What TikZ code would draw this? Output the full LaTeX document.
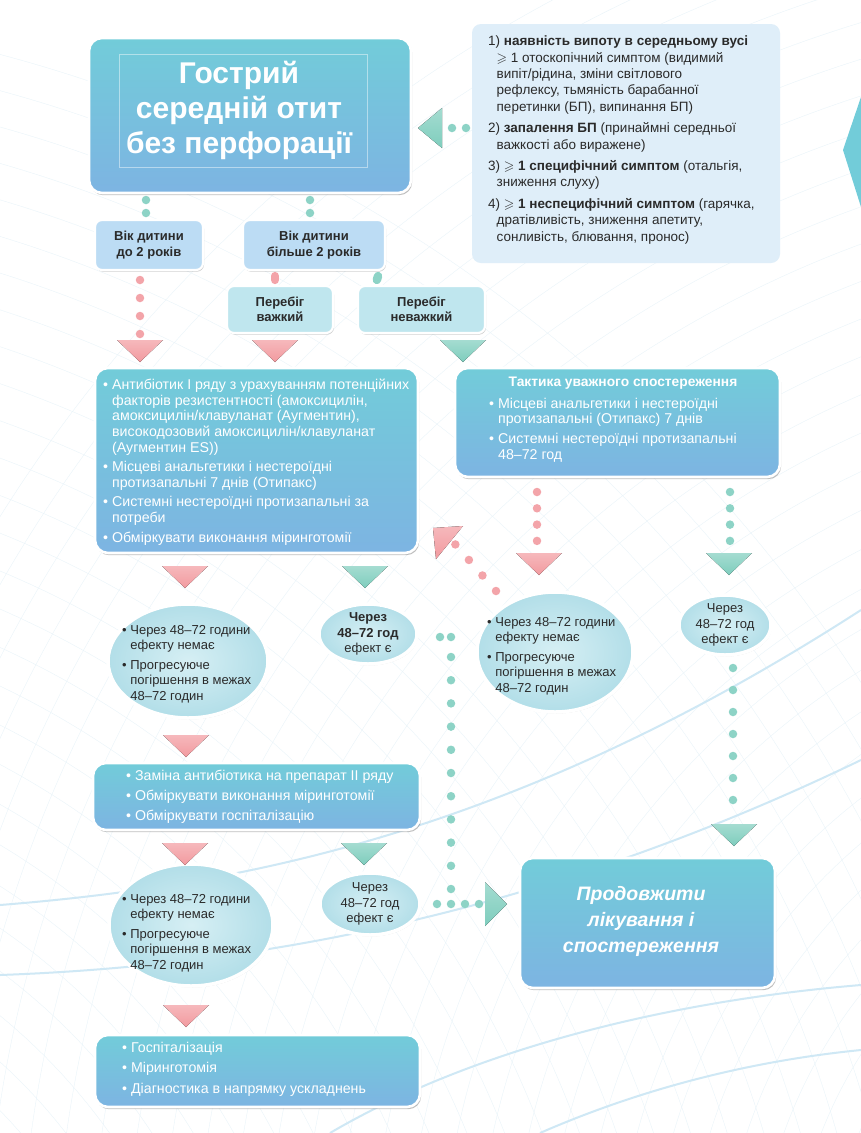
\documentclass[tikz,border=0pt]{standalone}
\usepackage{fontspec}
\setmainfont{Liberation Sans}
\usepackage{amssymb}
\usetikzlibrary{calc,shadows,shapes.geometric}

\definecolor{boxtop}{HTML}{72CCD9}
\definecolor{boxbot}{HTML}{7DB4E2}
\definecolor{pinkc}{HTML}{F29A9F}
\definecolor{pdot}{HTML}{F3A4A9}
\definecolor{tealc}{HTML}{7ECDBD}
\definecolor{tdot}{HTML}{8DD3C6}
\definecolor{critc}{HTML}{DFEEF9}
\definecolor{agec}{HTML}{BCDCF4}
\definecolor{coursec}{HTML}{BFE6EE}
\definecolor{txt}{HTML}{2A2A2A}
\definecolor{meshc}{HTML}{E8F3F9}
\definecolor{arcc}{HTML}{CFE8F5}
\definecolor{ovin}{HTML}{D6EFF4}
\definecolor{ovout}{HTML}{B2DEE8}

\newcommand\mybul{\textbullet\ }
\newcommand\myind{\hphantom{\textbullet\ }}

\tikzset{
  bluebox/.style={rectangle, rounded corners=13pt, draw=white, line width=2.6pt,
    top color=boxtop, bottom color=boxbot, inner sep=0pt,
    drop shadow={shadow xshift=1.2pt, shadow yshift=-2.2pt, fill=black, opacity=0.25}},
  agebox/.style={rectangle, rounded corners=7pt, draw=white, line width=2.2pt, fill=agec,
    inner sep=0pt, text=txt, align=center,
    font=\bfseries\fontsize{13}{15.5}\selectfont,
    drop shadow={shadow xshift=1pt, shadow yshift=-1.6pt, fill=black, opacity=0.2}},
  coursebox/.style={agebox, fill=coursec},
  critbox/.style={rectangle, rounded corners=9pt, fill=critc, inner sep=0pt},
  oval/.style={ellipse, draw=white, line width=3.5pt, inner color=ovin, outer color=ovout,
    inner sep=0pt,
    drop shadow={shadow xshift=0.8pt, shadow yshift=-1.5pt, fill=black, opacity=0.12}},
  wtext/.style={text=white, align=left, inner sep=0pt, font=\fontsize{14.2}{15.6}\selectfont},
  dtext/.style={text=txt, align=left, inner sep=0pt, font=\fontsize{13}{15.6}\selectfont},
  pdots/.style={draw=pdot, line width=8.5pt, line cap=round, dash pattern=on 0pt off #1},
  pdots/.default=13pt,
  tdots/.style={draw=tdot, line width=8.5pt, line cap=round, dash pattern=on 0pt off #1},
  tdots/.default=13pt,
  pcap/.style={draw=pdot, line width=8.5pt, line cap=round},
  tcap/.style={draw=tdot, line width=8.5pt, line cap=round},
  ptri/.style={top color=pinkc!70!white, bottom color=pinkc},
  ttri/.style={top color=tealc!70!white, bottom color=tealc},
}
\newcommand\dtri[2]{\fill[#1] ($(#2)+(-23,-22)$) -- (#2) -- ($(#2)+(23,-22)$) -- cycle;}

\begin{document}
\begin{tikzpicture}[x=1pt,y=-1pt]
\useasboundingbox (0,0) rectangle (861,1133);
\fill[white] (0,0) rectangle (861,1133);

% background mesh
\begin{scope}
\clip (0,0) rectangle (861,1133);
\foreach \r in {250,285,...,1500} \draw[meshc,line width=0.35pt] (1250,1300) circle[radius=\r];
\foreach \r in {250,285,...,1500} \draw[meshc,line width=0.35pt] (-380,1480) circle[radius=\r];
\draw[arcc, line width=2pt] (0,905) .. controls (250,885) and (520,830) .. (861,610);
\draw[arcc, line width=2pt] (0,975) .. controls (280,965) and (560,905) .. (861,760);
\draw[arcc, line width=2pt] (330,1133) .. controls (480,1045) and (680,1000) .. (861,985);
\draw[arcc, line width=2pt] (540,1133) .. controls (650,1085) and (760,1060) .. (861,1050);
\end{scope}

% right-edge decoration
\fill[boxtop] (843,150) -- (861,97) -- (861,207) -- cycle;

% ---------- nodes ----------
\node[bluebox, minimum width=322pt, minimum height=155pt] (title) at (250,115.5) {};
\draw[white, opacity=0.45, line width=0.4pt] (119,54) rectangle (367,167);
\node[text=white, align=center, inner sep=0pt, font=\bfseries\fontsize{30}{35}\selectfont]
  (titlet) at (239,110) {Гострий\\середній отит\\без перфорації};

\node[critbox, minimum width=308pt, minimum height=239pt] (crit) at (626,143.5) {};
\node[dtext, anchor=west, font=\fontsize{13.5}{16.4}\selectfont] (critt) at (488,140) {%
1) \textbf{наявність випоту в середньому вусі}\\
\myind$\geqslant$ 1 отоскопічний симптом (видимий\\
\myind випіт/рідина, зміни світлового\\
\myind рефлексу, тьмяність барабанної\\
\myind перетинки (БП), випинання БП)\\[5pt]
2) \textbf{запалення БП} (принаймні середньої\\
\myind важкості або виражене)\\[5pt]
3) $\geqslant$ \textbf{1 специфічний симптом} (отальгія,\\
\myind зниження слуху)\\[5pt]
4) $\geqslant$ \textbf{1 неспецифічний симптом} (гарячка,\\
\myind дратівливість, зниження апетиту,\\
\myind сонливість, блювання, пронос)};

\node[agebox, minimum width=108pt, minimum height=50pt] (age1) at (149,245) {Вік дитини\\до 2 років};
\node[agebox, minimum width=142pt, minimum height=50pt] (age2) at (314,245) {Вік дитини\\більше 2 років};
\node[coursebox, minimum width=106pt, minimum height=47pt] (sev) at (280,309.5) {Перебіг\\важкий};
\node[coursebox, minimum width=127pt, minimum height=47pt] (mild) at (421.5,309.5) {Перебіг\\неважкий};

\node[bluebox, minimum width=323pt, minimum height=185pt] (b1) at (256.5,460.5) {};
\node[wtext, anchor=west] (b1t) at (103,462) {%
\mybul Антибіотик І ряду з урахуванням потенційних\\
\myind факторів резистентності (амоксицилін,\\
\myind амоксицилін/клавуланат (Аугментин),\\
\myind високодозовий амоксицилін/клавуланат\\
\myind (Аугментин ES))\\[4pt]
\mybul Місцеві анальгетики і нестероїдні\\
\myind протизапальні 7 днів (Отипакс)\\[4pt]
\mybul Системні нестероїдні протизапальні за\\
\myind потреби\\[4pt]
\mybul Обміркувати виконання міринготомії};

\node[bluebox, minimum width=325pt, minimum height=109pt] (b2) at (617.5,422.5) {};
\node[text=white, inner sep=0pt, font=\bfseries\fontsize{13.8}{15.6}\selectfont] (b2h) at (623,383) {Тактика уважного спостереження};
\node[wtext, anchor=west] (b2t) at (489,430) {%
\mybul Місцеві анальгетики і нестероїдні\\
\myind протизапальні (Отипакс) 7 днів\\[4pt]
\mybul Системні нестероїдні протизапальні\\
\myind 48–72 год};

\node[oval, minimum width=160pt, minimum height=114pt] (e1) at (188,661) {};
\node[dtext, anchor=west] (e1t) at (122,664) {%
\mybul Через 48–72 години\\
\myind ефекту немає\\[4pt]
\mybul Прогресуюче\\
\myind погіршення в межах\\
\myind 48–72 годин};

\node[oval, minimum width=98pt, minimum height=60pt] (e2) at (368,634) {};
\node[dtext, align=center] (e2t) at (368,634) {\textbf{Через}\\\textbf{48–72 год}\\ефект є};

\node[oval, minimum width=156pt, minimum height=120pt] (e3) at (555,652) {};
\node[dtext, anchor=west] (e3t) at (487,656) {%
\mybul Через 48–72 години\\
\myind ефекту немає\\[4pt]
\mybul Прогресуюче\\
\myind погіршення в межах\\
\myind 48–72 годин};

\node[oval, minimum width=92pt, minimum height=60pt] (e4) at (725,625) {};
\node[dtext, align=center] (e4t) at (725,625) {Через\\48–72 год\\ефект є};

\node[bluebox, minimum width=327pt, minimum height=67pt] (b3) at (256.5,796.5) {};
\node[wtext, anchor=west] (b3t) at (126,797) {%
\mybul Заміна антибіотика на препарат ІІ ряду\\[4.4pt]
\mybul Обміркувати виконання міринготомії\\[4.4pt]
\mybul Обміркувати госпіталізацію};

\node[oval, minimum width=164pt, minimum height=122pt] (e5) at (191,925) {};
\node[dtext, anchor=west] (e5t) at (122,933) {%
\mybul Через 48–72 години\\
\myind ефекту немає\\[4pt]
\mybul Прогресуюче\\
\myind погіршення в межах\\
\myind 48–72 годин};

\node[oval, minimum width=100pt, minimum height=62pt] (e6) at (370,904) {};
\node[dtext, align=center] (e6t) at (370,904) {Через\\48–72 год\\ефект є};

\node[bluebox, minimum width=255pt, minimum height=130pt] (fin) at (647.5,923) {};
\node[text=white, align=center, inner sep=0pt, font=\bfseries\itshape\fontsize{19.5}{26}\selectfont]
  (fint) at (641,921) {Продовжити\\лікування і\\спостереження};

\node[bluebox, minimum width=325pt, minimum height=72pt] (b4) at (257.5,1071) {};
\node[wtext, anchor=west] (b4t) at (122,1069) {%
\mybul Госпіталізація\\[4.8pt]
\mybul Міринготомія\\[4.8pt]
\mybul Діагностика в напрямку ускладнень};

% ---------- arrowhead coordinates ----------
\coordinate (tA) at (140,362);
\coordinate (tB) at (275,362);
\coordinate (tC) at (463,362);
\coordinate (tD) at (539,575);
\coordinate (tE) at (729,575);
\coordinate (tF) at (185,588);
\coordinate (tG) at (365,588);
\coordinate (tH) at (186,757);
\coordinate (tI) at (734,846);
\coordinate (tJ) at (185,865);
\coordinate (tK) at (364,865);
\coordinate (tL) at (186,1027);
\coordinate (tM) at (507,904);
\coordinate (tN) at (418,128);
\coordinate (tO) at (433,528);

% ---------- dotted connector end points ----------
\coordinate (d1a) at (146,200);   \coordinate (d1b) at (146,213.5);
\coordinate (d2a) at (310,200);   \coordinate (d2b) at (310,213.5);
\coordinate (d3a) at (140,280);   \coordinate (d3b) at (140,334.5);
\coordinate (d4a) at (466,128);   \coordinate (d4b) at (451.5,128);
\coordinate (d5a) at (537,492);   \coordinate (d5b) at (537,541.5);
\coordinate (d6a) at (730,492);   \coordinate (d6b) at (730,541.5);
\coordinate (d7a) at (496,591);   \coordinate (d7b) at (454.8,543.8);
\coordinate (d8a) at (440,637);   \coordinate (d8b) at (451.5,637);
\coordinate (d9a) at (451,657);   \coordinate (d9b) at (451,889.5);
\coordinate (dAa) at (437,904);   \coordinate (dAb) at (479.5,904);
\coordinate (dBa) at (733,668);   \coordinate (dBb) at (733,800.5);

% ---------- connectors ----------
\draw[tdots=13pt] (d1a) -- (d1b);
\draw[tdots=13pt] (d2a) -- (d2b);
\draw[pdots=18pt] (d3a) -- (d3b);
\draw[pcap] ($(age2.south -| tB)+(0,5)$) -- ($(sev.north -| tB)+(0,-5)$);
\draw[tcap] ($(age2.south)+(64,5)$) -- ($(mild.north west)+(20,-5)$);
\draw[tdots=14pt] (d4a) -- (d4b);
\draw[pdots=16.3pt] (d5a) -- (d5b);
\draw[tdots=16.3pt] (d6a) -- (d6b);
\draw[pdots=20.6pt] (d7a) -- (d7b);
\draw[tdots=11pt] (d8a) -- (d8b);
\draw[tdots=23.2pt] (d9a) -- (d9b);
\draw[tdots=14pt] (dAa) -- (dAb);
\draw[tdots=22pt] (dBa) -- (dBb);

% ---------- arrowheads ----------
\dtri{ptri}{tA}
\dtri{ptri}{tB}
\dtri{ttri}{tC}
\dtri{ptri}{tD}
\dtri{ttri}{tE}
\dtri{ptri}{tF}
\dtri{ttri}{tG}
\dtri{ptri}{tH}
\dtri{ttri}{tI}
\dtri{ptri}{tJ}
\dtri{ttri}{tK}
\dtri{ptri}{tL}
\fill[ttri] (tM) -- ++(-22,-22) -- ++(0,44) -- cycle;
\fill[ttri] (tN) -- ++(24,-20) -- ++(0,40) -- cycle;
\fill[ptri] (tO) -- ++(30,-2) -- ++(-27,33) -- cycle;
\end{tikzpicture}
\end{document}
